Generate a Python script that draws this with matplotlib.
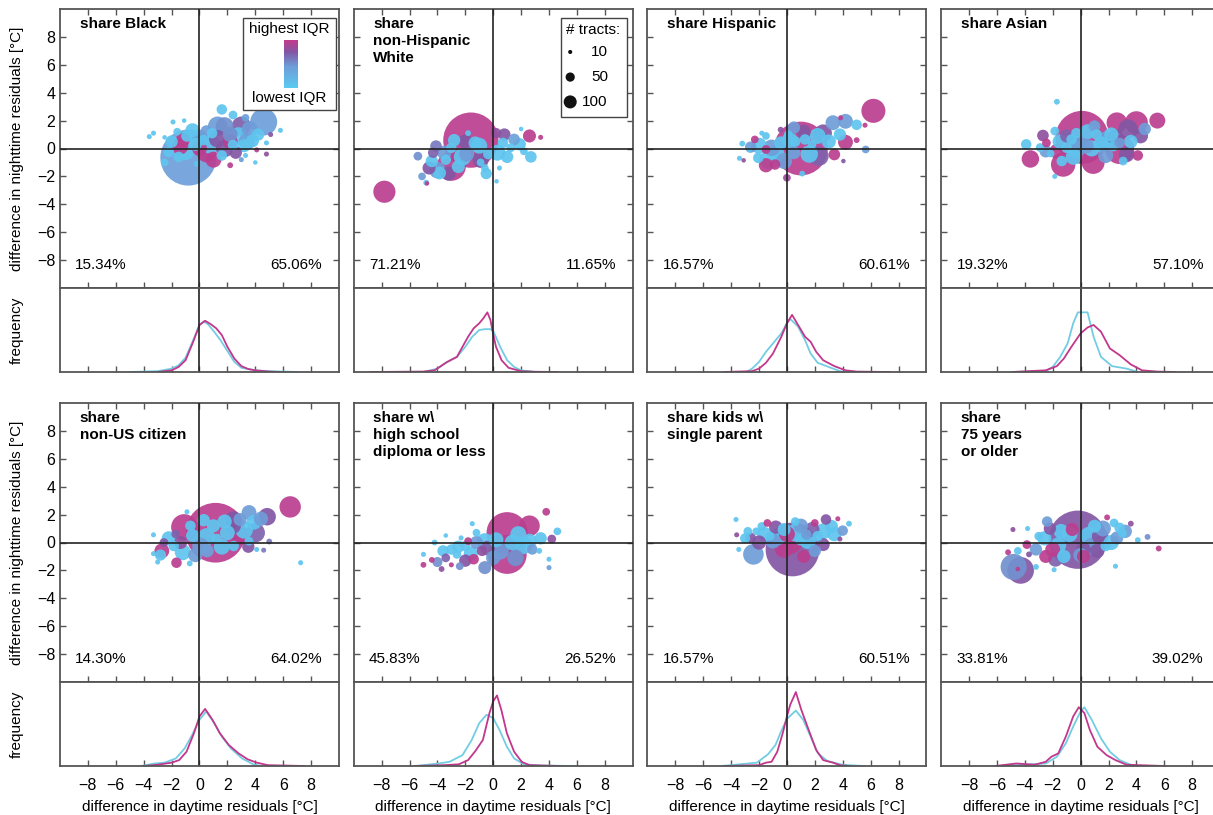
import numpy as np
import matplotlib.pyplot as plt
from matplotlib.colors import LinearSegmentedColormap
from matplotlib.patches import Rectangle

plt.rcParams['font.family'] = ['Liberation Sans', 'DejaVu Sans']
plt.rcParams['font.size'] = 11

# ---- bubbles: x = daytime diff, y = nighttime diff, n = # tracts, q = IQR rank (0 lowest, 1 highest)
black_x = [-0.8, 4.6, -3.6, -3.3, -1.9, -1.1, -2.5, 1.6, 2.4, 3.3, 5.8, 5.1, 4.0, 3.3, 3.0, 4.1, 4.8, -1.4, 0.0, 0.5,
           1.3, 3.0, 2.2, 2.2, 1.3, -2.2, -2.5, -1.5, -0.3, 0.3, 0.9, 1.6, 2.4, 3.8, -0.2, 0.5, 2.2, 3.4, -1.6, -0.9, 4.8,
           -1.0, 0.8, 1.8, 2.8, 3.6, -0.5, 1.0, 2.6, 0.0, -2.0, 3.2, 4.2, 1.8, -1.2]
black_y = [-0.65, 1.9, 0.85, 1.1, 1.9, 2.0, 0.8, 2.8, 2.4, 2.2, 1.3, 1.0, -1.0, -0.5, -0.8, -0.1, 0.4, 0.15, 0.0, -0.3,
           0.7, 1.6, 0.5, -1.2, 1.6, -0.25, -1.0, -0.6, 0.3, 0.6, 1.1, -0.5, 0.25, 0.55, -1.1, 1.25, 1.0, 0.5, 1.2, 0.9, -0.4,
           -0.2, 0.3, 1.6, 0.9, 1.4, 1.3, -0.8, -0.3, 0.8, 0.5, 0.2, 1.0, 0.0, 0.6]
black_n = [1850, 430, 15, 15, 15, 12, 12, 65, 45, 35, 15, 15, 12, 15, 15, 15, 15, 160, 130, 220,
           180, 220, 130, 20, 220, 65, 35, 65, 100, 65, 65, 65, 65, 100, 20, 80, 130, 160, 35, 80, 15,
           180, 220, 190, 180, 150, 120, 150, 90, 140, 90, 100, 90, 180, 120]
black_q = [0.42, 0.42, 0.05, 0.05, 0.05, 0.05, 0.05, 0.05, 0.05, 0.4, 0.05, 0.75, 0.05, 0.05, 0.45, 0.95, 0.05, 0.97, 0.97, 0.97,
           0.75, 0.72, 0.95, 0.95, 0.45, 0.05, 0.05, 0.05, 0.05, 0.05, 0.05, 0.05, 0.05, 0.05, 0.05, 0.45, 0.5, 0.4, 0.05, 0.05, 0.8,
           0.05, 0.05, 0.5, 0.05, 0.45, 0.05, 0.97, 0.75, 0.45, 0.05, 0.05, 0.05, 0.75, 0.97]

white_x = [-1.6, -3.0, -7.8, 2.6, 3.4, 2.0, 2.7, 2.2, 0.24, 0.45, -5.4, -4.1, -4.8, -5.1, -4.0, -3.85, -4.6, -3.0, -1.8, -1.3,
           -1.9, -0.9, -2.5, -0.35, 0.7, 1.25, 1.5, 0.2, -0.6, -3.4, -4.3, -0.9, -4.75,
           -2.2, -3.5, -1.0, 0.3, -2.0, 1.0, -3.2, -0.5, 0.8, 1.9, -2.8, -4.4]
white_y = [0.6, -1.27, -3.1, 0.9, 0.8, 1.4, -0.6, -0.2, -2.35, -1.4, -0.55, 0.17, -2.45, -2.0, -1.55, -1.75, -1.4, 0.05, 1.1, 0.4,
           -0.4, -0.8, -1.3, -0.4, 0.4, 0.05, 0.65, 1.1, -1.4, -0.8, -0.3, -1.0, -2.5,
           -0.6, -0.3, 0.2, -0.3, 0.5, -0.6, -1.8, -1.8, 1.0, 0.3, 0.6, -0.9]
white_n = [1800, 500, 290, 100, 15, 12, 80, 35, 12, 15, 45, 80, 20, 35, 160, 100, 100, 65, 20, 100,
           130, 160, 100, 65, 65, 45, 80, 65, 35, 65, 65, 35, 12,
           180, 120, 150, 150, 120, 90, 120, 75, 90, 90, 90, 90]
white_q = [0.97, 0.97, 0.97, 0.97, 0.97, 0.05, 0.05, 0.05, 0.05, 0.05, 0.5, 0.6, 0.05, 0.45, 0.45, 0.05, 0.75, 0.05, 0.05, 0.05,
           0.45, 0.75, 0.05, 0.05, 0.05, 0.05, 0.4, 0.8, 0.05, 0.05, 0.7, 0.05, 0.97,
           0.05, 0.45, 0.05, 0.05, 0.75, 0.05, 0.75, 0.05, 0.75, 0.05, 0.05, 0.05]

hisp_x = [1.0, 6.2, 3.3, 4.2, 5.0, 5.6, 3.85, 2.6, 4.2, 5.0, 5.65, 2.3, 3.4, 4.05, 0.0, 1.1, -3.2, -2.7, -3.4, -3.1,
          -1.8, -2.3, -2.05, -1.25, -1.1, -0.85, -1.5, -0.45, 0.6, 1.3, 1.8, 0.1, -0.45, 0.5, -1.5,
          -2.0, -0.8, 0.2, 1.6, 2.2, -1.5, 3.0, 0.5, -0.2, 1.2, -2.6, 3.8]
hisp_y = [0.0, 2.7, 1.85, 1.95, 1.7, 1.67, 2.2, 1.1, 0.45, 0.6, -0.07, -0.55, -0.43, -0.9, -2.1, -1.8, 0.35, -0.1, -0.7, -0.85,
          1.1, 0.65, -0.67, -0.8, 0.05, -1.15, -0.07, 0.4, 0.5, 0.65, 0.3, 1.0, 1.35, -0.3, 0.9,
          0.2, -0.4, 0.6, -0.4, 0.9, -1.2, 0.5, 1.5, -0.9, 1.2, 0.1, 1.0]
hisp_n = [1700, 340, 130, 130, 65, 15, 15, 180, 130, 20, 35, 220, 80, 12, 35, 20, 20, 15, 15, 12,
          15, 35, 65, 220, 160, 65, 45, 100, 65, 65, 45, 45, 20, 100, 35,
          150, 180, 150, 180, 150, 120, 120, 90, 150, 120, 75, 90]
hisp_q = [0.97, 0.97, 0.45, 0.45, 0.05, 0.97, 0.97, 0.75, 0.97, 0.97, 0.45, 0.7, 0.97, 0.75, 0.85, 0.05, 0.05, 0.05, 0.05, 0.8,
          0.05, 0.97, 0.05, 0.05, 0.45, 0.97, 0.97, 0.05, 0.05, 0.05, 0.05, 0.05, 0.8, 0.4, 0.05,
          0.05, 0.05, 0.05, 0.05, 0.05, 0.97, 0.05, 0.45, 0.45, 0.75, 0.45, 0.05]

asian_x = [0.1, 4.0, 5.5, 2.6, 0.9, -1.25, -3.6, 2.8, 4.1, 3.4, 4.3, 3.3, -2.7, -1.7, -3.9, -2.9, -1.85, -1.85, -1.35, 3.05,
           1.0, 1.85, 0.4, -0.3, -0.65, -0.3, 1.15, 2.35, -1.0, -1.0, -2.15, -2.45, -1.7, 2.8,
           1.5, -0.5, 2.2, 0.5, -1.5, 1.8, 3.6, -0.2, 2.5, -2.5, 0.8, 4.6]
asian_y = [0.8, 1.85, 2.0, 1.85, -1.0, -1.15, -0.75, -0.07, -0.5, 1.4, 0.9, -0.43, 0.93, 3.35, 0.3, 0.07, 1.25, -2.0, -0.9, -0.9,
           1.6, 0.65, 0.17, -0.07, 0.65, 1.1, 1.0, 0.17, 0.05, 0.9, -0.36, 0.4, -0.2, 0.4,
           0.3, -0.6, 1.0, 1.2, 0.5, -0.5, 0.5, 0.3, 0.8, -0.2, 0.0, 1.4]
asian_n = [1650, 310, 150, 250, 310, 350, 180, 500, 65, 220, 130, 140, 80, 20, 65, 45, 45, 15, 65, 45,
           80, 160, 130, 160, 65, 65, 65, 65, 65, 100, 35, 45, 130, 65,
           150, 150, 120, 135, 120, 135, 105, 180, 150, 90, 150, 90]
asian_q = [0.97, 0.97, 0.97, 0.97, 0.97, 0.97, 0.97, 0.97, 0.97, 0.75, 0.75, 0.75, 0.8, 0.05, 0.05, 0.05, 0.05, 0.05, 0.05, 0.05,
           0.4, 0.45, 0.45, 0.4, 0.05, 0.05, 0.05, 0.05, 0.05, 0.7, 0.05, 0.97, 0.97, 0.45,
           0.05, 0.05, 0.05, 0.05, 0.05, 0.45, 0.05, 0.45, 0.75, 0.45, 0.05, 0.45]

citizen_x = [1.15, -1.1, 6.5, 4.85, 7.25, 3.55, 3.9, 4.0, 5.0, 4.6, 4.1, -2.7, -1.65, -0.7, -3.3, -3.3, -3.0, -0.9, -2.55, -1.7,
             -1.85, -0.65, -0.5, 0.07, 1.0, 2.0, 2.9, 2.45, 1.25, 0.55, 2.45, -1.35, 3.55, 2.9,
             -2.2, -1.2, 0.5, 1.6, 3.2, 2.4, -0.3, 1.8, 4.4, -2.8, 3.5, 0.3]
citizen_y = [0.7, 1.1, 2.55, 1.85, -1.45, 2.15, 1.45, 0.7, 0.07, -0.55, -0.5, -0.6, -1.45, -1.5, 0.55, -0.8, -1.4, 2.2, 0.0, 0.6,
             -0.25, 1.2, 0.5, -0.25, 1.2, 0.7, 1.65, -0.25, 0.25, -0.6, 1.65, 0.0, 0.1, 0.5,
             0.3, -0.7, 0.4, -0.3, 0.9, 1.2, -0.9, 1.5, 1.7, -0.9, -0.3, 1.6]
citizen_n = [2100, 400, 270, 180, 15, 130, 130, 220, 20, 15, 15, 130, 65, 20, 15, 15, 15, 15, 45, 45,
             65, 65, 100, 160, 100, 130, 100, 65, 65, 100, 160, 100, 45, 220,
             120, 150, 180, 150, 180, 150, 120, 120, 120, 75, 90, 90]
citizen_q = [0.97, 0.97, 0.97, 0.75, 0.05, 0.45, 0.05, 0.7, 0.6, 0.6, 0.05, 0.97, 0.97, 0.05, 0.05, 0.05, 0.05, 0.05, 0.75, 0.7,
             0.05, 0.05, 0.05, 0.45, 0.05, 0.05, 0.45, 0.05, 0.05, 0.4, 0.75, 0.8, 0.05, 0.97,
             0.05, 0.05, 0.05, 0.05, 0.05, 0.75, 0.45, 0.05, 0.45, 0.05, 0.75, 0.05]

school_x = [1.0, 1.0, 2.6, 3.8, 4.6, 4.2, 3.3, 4.0, 4.0, 2.6, 2.8, 1.6, -0.6, -1.5, -1.2, -2.3, -3.4, -4.2, -5.0, -5.0,
            -4.4, -3.7, -3.0, -3.4, -2.4, -1.4, -3.0, -2.0, -1.2, -0.4, 0.2, -2.6, -1.8, -0.8,
            -2.5, -1.6, -0.6, 0.5, 1.8, 2.2, -3.6, -4.0, -2.0, 0.0, 1.4, 3.4]
school_y = [0.7, -0.85, 1.2, 2.2, 0.8, 0.25, -0.6, -1.2, -1.8, 0.1, -0.5, -1.1, -1.8, 1.35, 0.7, 0.33, 0.5, 0.0, -0.85, -1.6,
            -1.25, -1.9, -1.6, -1.1, -1.7, -1.2, -0.5, -0.25, 0.0, -0.4, 0.2, -0.85, 0.1, -0.6,
            -0.3, -0.8, 0.1, -0.6, 0.6, -0.2, -0.6, -1.4, -1.3, -1.1, 0.0, 0.3]
school_n = [1000, 900, 250, 35, 35, 45, 20, 15, 15, 130, 65, 160, 100, 15, 35, 15, 12, 20, 15, 20,
            20, 20, 15, 45, 35, 65, 65, 65, 100, 130, 130, 45, 35, 65,
            90, 120, 150, 180, 150, 180, 75, 60, 90, 120, 150, 90]
school_q = [0.97, 0.97, 0.97, 0.97, 0.05, 0.8, 0.05, 0.05, 0.45, 0.05, 0.45, 0.5, 0.5, 0.05, 0.05, 0.05, 0.05, 0.05, 0.05, 0.97,
            0.97, 0.8, 0.97, 0.7, 0.5, 0.97, 0.05, 0.05, 0.45, 0.7, 0.05, 0.05, 0.97, 0.8,
            0.05, 0.05, 0.05, 0.45, 0.05, 0.05, 0.05, 0.5, 0.75, 0.45, 0.05, 0.05]

parent_x = [0.4, 0.2, -2.4, -3.65, 4.45, 3.65, 4.0, 3.2, 2.8, 3.8, -3.45, -3.6, -2.8, -2.6, -2.2, -1.4, -1.8, -0.2, -0.2, -1.0,
            1.0, 1.8, 1.2, 2.2, 2.6, 2.0, -1.2, 0.6, 1.4,
            -1.6, -0.6, 0.6, 1.5, 2.6, -2.0, -0.8, 1.0, 3.4, 2.0, -3.0, 0.0]
parent_y = [-0.5, 0.1, -0.85, 1.65, 1.35, 1.7, 0.85, 1.15, 1.65, 0.25, -0.5, 0.55, 0.8, 0.33, 0.8, 1.4, 1.15, -0.4, 0.93, 0.1,
            0.2, 0.93, -1.0, 0.45, -0.15, 1.4, 0.45, 1.5, 0.57,
            0.6, 0.4, 0.7, 0.1, 0.8, 0.0, 1.1, 1.2, 0.6, -0.6, 0.3, 0.6]
parent_n = [1700, 400, 250, 15, 20, 15, 65, 100, 65, 15, 15, 15, 45, 65, 35, 35, 45, 220, 100, 130,
            80, 130, 100, 65, 100, 35, 45, 45, 65,
            120, 150, 180, 150, 150, 120, 105, 120, 120, 90, 60, 150]
parent_q = [0.75, 0.97, 0.45, 0.05, 0.05, 0.97, 0.45, 0.05, 0.75, 0.8, 0.05, 0.8, 0.05, 0.75, 0.05, 0.97, 0.05, 0.97, 0.05, 0.45,
            0.05, 0.7, 0.97, 0.05, 0.75, 0.97, 0.05, 0.05, 0.45,
            0.05, 0.05, 0.05, 0.05, 0.05, 0.75, 0.75, 0.45, 0.05, 0.45, 0.05, 0.97]

older_x = [-0.2, -4.3, -4.8, -4.5, -5.2, -4.85, -4.5, -3.7, -3.2, -3.8, -3.85, -2.4, -3.0, -2.5, -1.8, -2.0, 0.2, -1.4, 0.8, -0.6,
           1.0, 1.4, 1.9, 2.4, 3.6, 2.8, 2.6, 3.0, 4.1, 4.8, 5.6, 2.5, -1.9, 1.8, 0.2,
           -2.6, -1.6, -0.8, 0.6, 1.6, 2.2, -3.2, -2.2, 0.0, 3.2, -1.2, 1.2]
older_y = [0.2, -2.0, -1.75, -1.9, -0.7, 0.93, -0.6, -0.85, -1.75, 1.0, -0.15, 1.5, 0.45, -1.0, -1.2, -0.5, -1.0, 0.8, -0.25, 0.93,
           1.17, 0.45, 1.8, 1.4, 1.35, 1.05, 0.33, 0.65, 0.17, 0.4, -0.43, -1.7, -1.95, -0.25, -0.5,
           0.3, -0.2, 0.6, 0.5, 1.0, 0.0, -0.5, 1.0, -0.9, 0.8, -1.0, -0.6]
older_n = [2000, 420, 400, 12, 20, 15, 35, 20, 20, 15, 45, 65, 45, 100, 130, 130, 100, 130, 160, 100,
           100, 160, 20, 45, 20, 65, 100, 45, 20, 20, 20, 15, 15, 65, 130,
           120, 150, 150, 180, 150, 135, 90, 90, 120, 105, 105, 120]
older_q = [0.75, 0.75, 0.5, 0.97, 0.97, 0.8, 0.05, 0.75, 0.05, 0.05, 0.97, 0.45, 0.05, 0.97, 0.7, 0.97, 0.97, 0.05, 0.45, 0.97,
           0.05, 0.75, 0.97, 0.05, 0.8, 0.05, 0.45, 0.05, 0.05, 0.5, 0.97, 0.05, 0.05, 0.05, 0.75,
           0.05, 0.05, 0.05, 0.05, 0.45, 0.05, 0.45, 0.75, 0.45, 0.45, 0.05, 0.75]

# ---- frequency curves (fraction of panel height), highest IQR (magenta) and lowest IQR (cyan)
black_hi_x = [-3, -2, -1.5, -1, -0.5, 0, 0.4, 0.8, 1.2, 1.6, 2, 2.5, 3, 3.5, 4, 5, 5.7]
black_hi_y = [0, 0.02, 0.06, 0.14, 0.34, 0.56, 0.61, 0.57, 0.52, 0.44, 0.3, 0.16, 0.07, 0.035, 0.02, 0.005, 0]
black_lo_x = [-4.9, -3, -2, -1.5, -1, -0.5, 0, 0.3, 0.6, 1, 1.5, 2, 2.5, 3, 4, 5, 7]
black_lo_y = [0, 0.01, 0.04, 0.08, 0.17, 0.36, 0.56, 0.6, 0.57, 0.49, 0.38, 0.25, 0.12, 0.05, 0.02, 0.01, 0]

white_hi_x = [-8.8, -5, -4.2, -3.4, -2.6, -2.2, -1.8, -1.4, -1.0, -0.7, -0.42, -0.2, 0, 0.2, 0.6, 1.1, 2, 3, 4.6]
white_hi_y = [0, 0.005, 0.02, 0.11, 0.18, 0.3, 0.42, 0.52, 0.58, 0.64, 0.71, 0.62, 0.45, 0.3, 0.14, 0.05, 0.01, 0.003, 0]
white_lo_x = [-5, -4, -3.2, -2.6, -2, -1.5, -1.0, -0.6, -0.2, 0, 0.5, 1, 1.5, 2, 3]
white_lo_y = [0, 0.04, 0.13, 0.18, 0.3, 0.42, 0.5, 0.51, 0.51, 0.49, 0.3, 0.14, 0.06, 0.02, 0]

hisp_hi_x = [-4.5, -2.5, -2, -1.5, -1, -0.4, 0, 0.37, 0.8, 1.3, 1.7, 2.1, 2.6, 3.4, 4.2, 5, 7.4]
hisp_hi_y = [0, 0.01, 0.04, 0.11, 0.22, 0.42, 0.58, 0.68, 0.56, 0.42, 0.36, 0.24, 0.14, 0.07, 0.02, 0.005, 0]
hisp_lo_x = [-2.9, -2.5, -2, -1.5, -1, -0.4, 0, 0.25, 0.8, 1.3, 1.7, 2.2, 3, 3.8, 4.2]
hisp_lo_y = [0, 0.04, 0.12, 0.24, 0.34, 0.46, 0.58, 0.63, 0.54, 0.38, 0.22, 0.11, 0.06, 0.01, 0]

asian_hi_x = [-4.9, -2.5, -1.7, -1.2, -0.66, 0, 0.5, 0.93, 1.46, 2.1, 2.8, 3.6, 4.4, 5.5, 6.8]
asian_hi_y = [0, 0.02, 0.07, 0.16, 0.3, 0.46, 0.53, 0.56, 0.48, 0.28, 0.2, 0.09, 0.02, 0.005, 0]
asian_lo_x = [-4.9, -2.5, -2, -1.46, -0.93, -0.53, -0.2, 0.5, 0.93, 1.46, 2.25, 3.3, 4.1]
asian_lo_y = [0, 0.01, 0.06, 0.18, 0.34, 0.58, 0.71, 0.71, 0.42, 0.18, 0.07, 0.04, 0]

citizen_hi_x = [-4, -3, -2, -1.46, -0.93, -0.4, 0, 0.4, 0.93, 1.46, 2.1, 2.8, 3.45, 4.1, 4.9, 7.5]
citizen_hi_y = [0, 0.015, 0.04, 0.07, 0.17, 0.39, 0.59, 0.68, 0.55, 0.39, 0.25, 0.15, 0.08, 0.04, 0.01, 0]
citizen_lo_x = [-4.2, -3.2, -2.5, -1.7, -1.06, -0.53, 0, 0.48, 1.06, 1.6, 2.25, 3.05, 3.85, 4.4]
citizen_lo_y = [0, 0.03, 0.04, 0.09, 0.21, 0.37, 0.55, 0.65, 0.51, 0.35, 0.21, 0.09, 0.02, 0]

school_hi_x = [-5.6, -3.5, -2.47, -1.8, -1.27, -0.74, -0.27, 0, 0.27, 0.58, 0.98, 1.5, 2.04, 2.6, 4.7]
school_hi_y = [0, 0.01, 0.02, 0.07, 0.18, 0.31, 0.63, 0.77, 0.84, 0.67, 0.39, 0.17, 0.05, 0.01, 0]
school_lo_x = [-5.6, -3.9, -3.13, -2.2, -1.54, -1.0, -0.48, 0, 0.45, 0.98, 1.5, 2.2, 3.5, 5.8]
school_lo_y = [0, 0.03, 0.05, 0.13, 0.31, 0.51, 0.61, 0.57, 0.43, 0.23, 0.09, 0.02, 0.005, 0]

parent_hi_x = [-4.5, -2, -1.5, -1.1, -0.69, -0.3, 0, 0.24, 0.64, 1.03, 1.56, 2.1, 2.6, 3.3, 3.8, 4.5]
parent_hi_y = [0, 0.01, 0.04, 0.05, 0.17, 0.39, 0.59, 0.73, 0.88, 0.67, 0.43, 0.19, 0.07, 0.04, 0.01, 0]
parent_lo_x = [-4.7, -3.7, -2.15, -1.35, -0.82, -0.42, 0, 0.64, 1.17, 1.7, 2.23, 2.9, 3.95, 5.5]
parent_lo_y = [0, 0.015, 0.04, 0.14, 0.25, 0.41, 0.56, 0.66, 0.55, 0.35, 0.15, 0.06, 0.015, 0]

older_hi_x = [-6.1, -4.6, -3.3, -2.5, -2.1, -1.6, -1.06, -0.53, -0.13, 0.27, 0.66, 1.2, 1.86, 2.5, 3.3, 6]
older_hi_y = [0, 0.03, 0.015, 0.05, 0.11, 0.15, 0.35, 0.59, 0.7, 0.63, 0.43, 0.23, 0.13, 0.07, 0.015, 0]
older_lo_x = [-5.7, -4.1, -2.5, -1.7, -1.06, -0.53, 0, 0.27, 0.8, 1.46, 2.1, 2.8, 3.6, 4.1]
older_lo_y = [0, 0.015, 0.03, 0.11, 0.27, 0.47, 0.65, 0.7, 0.55, 0.33, 0.17, 0.07, 0.015, 0]

titles = ["share Black", "share\nnon-Hispanic\nWhite", "share Hispanic", "share Asian",
          "share\nnon-US citizen", "share w\\\nhigh school\ndiploma or less", "share kids w\\\nsingle parent",
          "share\n75 years\nor older"]
pct_left = ["15.34%", "71.21%", "16.57%", "19.32%", "14.30%", "45.83%", "16.57%", "33.81%"]
pct_right = ["65.06%", "11.65%", "60.61%", "57.10%", "64.02%", "26.52%", "60.51%", "39.02%"]

bubbles = [(black_x, black_y, black_n, black_q), (white_x, white_y, white_n, white_q),
           (hisp_x, hisp_y, hisp_n, hisp_q), (asian_x, asian_y, asian_n, asian_q),
           (citizen_x, citizen_y, citizen_n, citizen_q), (school_x, school_y, school_n, school_q),
           (parent_x, parent_y, parent_n, parent_q), (older_x, older_y, older_n, older_q)]
curves = [(black_hi_x, black_hi_y, black_lo_x, black_lo_y), (white_hi_x, white_hi_y, white_lo_x, white_lo_y),
          (hisp_hi_x, hisp_hi_y, hisp_lo_x, hisp_lo_y), (asian_hi_x, asian_hi_y, asian_lo_x, asian_lo_y),
          (citizen_hi_x, citizen_hi_y, citizen_lo_x, citizen_lo_y), (school_hi_x, school_hi_y, school_lo_x, school_lo_y),
          (parent_hi_x, parent_hi_y, parent_lo_x, parent_lo_y), (older_hi_x, older_hi_y, older_lo_x, older_lo_y)]

cmap = LinearSegmentedColormap.from_list(
    'iqr', [(0, '#5ccaf2'), (0.45, '#6f9dd8'), (0.75, '#8257a5'), (1.0, '#c23b8c')])
hi_col = '#c2378c'
lo_col = '#72cde3'
spine_col = '#555555'
size_scale = 0.88   # points^2 per tract

W, H = 1213, 815
fig = plt.figure(figsize=(W / 100, H / 100), dpi=100)


def px_box(left, top, w, h):
    return [left / W, 1 - (top + h) / H, w / W, h / H]


lefts = [60, 353.7, 647.4, 941.1]
tops = [9, 403]
pw, sh, fh = 279, 279, 84
ticks = np.arange(-8, 9, 2)

for i in range(8):
    r, c = divmod(i, 4)
    ax = fig.add_axes(px_box(lefts[c], tops[r], pw, sh))
    fx = fig.add_axes(px_box(lefts[c], tops[r] + sh, pw, fh))

    bx, by, bn, bq = [np.array(v, dtype=float) for v in bubbles[i]]
    order = np.argsort(-bn, kind='stable')
    ax.scatter(bx[order], by[order], s=bn[order] * size_scale, c=bq[order], cmap=cmap,
               vmin=0, vmax=1, alpha=0.92, edgecolors='none', zorder=2)
    ax.axhline(0, color='#222222', lw=1.2, zorder=3)
    ax.axvline(0, color='#222222', lw=1.2, zorder=3)
    ax.set_xlim(-10, 10)
    ax.set_ylim(-10, 10)
    ax.set_xticks(ticks)
    ax.set_yticks(ticks)
    ax.tick_params(direction='in', top=True, right=True, length=4, width=1, color=spine_col,
                   labelbottom=False, labelleft=(c == 0), labelsize=11.5)
    ax.text(-8.6, 9.4, titles[i], fontweight='bold', fontsize=11, ha='left', va='top', linespacing=1.25)
    ax.text(-8.9, -8.35, pct_left[i], ha='left', va='center', fontsize=11)
    ax.text(8.8, -8.35, pct_right[i], ha='right', va='center', fontsize=11)

    hx, hy, lx, ly = curves[i]
    fx.plot(lx, ly, color=lo_col, lw=1.3)
    fx.plot(hx, hy, color=hi_col, lw=1.3)
    fx.axvline(0, color='#222222', lw=1.2)
    fx.set_xlim(-10, 10)
    fx.set_ylim(0, 1)
    fx.set_xticks(ticks)
    fx.set_yticks([])
    fx.tick_params(direction='in', length=4, width=1, color=spine_col,
                   labelbottom=(r == 1), labelsize=11.5, pad=9)
    if r == 1:
        fx.set_xlabel("difference in daytime residuals [°C]", fontsize=11, labelpad=5)

    for a in (ax, fx):
        for s in a.spines.values():
            s.set_color(spine_col)
            s.set_linewidth(1.3)

    if c == 0:
        fig.text(17 / W, 1 - (tops[r] + sh / 2) / H, "difference in nighttime residuals [°C]",
                 rotation=90, ha='center', va='center', fontsize=11)
        fig.text(17 / W, 1 - (tops[r] + sh + fh / 2) / H, "frequency",
                 rotation=90, ha='center', va='center', fontsize=11)

    if i == 0:
        ax.add_patch(Rectangle((0.656, 0.638), 0.333, 0.33, transform=ax.transAxes,
                               facecolor='white', edgecolor='#444444', lw=1, zorder=5))
        ax.text(0.823, 0.928, "highest IQR", transform=ax.transAxes, ha='center', va='center',
                fontsize=11, zorder=6)
        ax.text(0.823, 0.681, "lowest IQR", transform=ax.transAxes, ha='center', va='center',
                fontsize=11, zorder=6)
        cb = ax.inset_axes([0.803, 0.717, 0.05, 0.172], zorder=6)
        cb.imshow(np.linspace(1, 0, 100)[:, None], aspect='auto', cmap=cmap, vmin=0, vmax=1)
        cb.axis('off')

    if i == 1:
        ax.add_patch(Rectangle((0.743, 0.613), 0.237, 0.355, transform=ax.transAxes,
                               facecolor='white', edgecolor='#444444', lw=1, zorder=5))
        ax.text(0.858, 0.925, "# tracts:", transform=ax.transAxes, ha='center', va='center',
                fontsize=11, zorder=6)
        for n_leg, yy in zip([10, 50, 100], [0.846, 0.756, 0.667]):
            ax.scatter([0.776], [yy], s=n_leg * size_scale, color='#111111', transform=ax.transAxes,
                       zorder=6, clip_on=False, edgecolors='none')
            ax.text(0.911, yy, str(n_leg), transform=ax.transAxes, ha='right', va='center',
                    fontsize=11, zorder=6)

fig.savefig('out.png', dpi=100)
